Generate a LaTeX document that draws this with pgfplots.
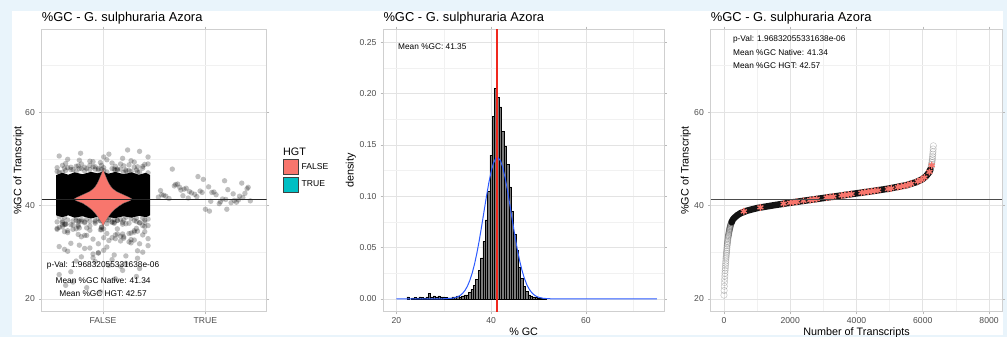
\documentclass[border=0pt]{standalone}
\usepackage{pgfplots}
\pgfplotsset{compat=1.18}
\usepgfplotslibrary{statistics}
\usepackage{fontspec}
\setmainfont{Liberation Sans}
\definecolor{bgblue}{HTML}{E9F4FB}
\definecolor{salmon}{HTML}{F8766D}
\definecolor{teal2}{HTML}{00BFC4}
\definecolor{tickgray}{HTML}{4D4D4D}
\definecolor{gridmaj}{HTML}{E3E3E3}
\definecolor{gridmin}{HTML}{F1F1F1}
\definecolor{borderc}{HTML}{CFCFCF}
\definecolor{histgray}{HTML}{7A7A7A}
\definecolor{curveblue}{HTML}{2D5BFF}
\definecolor{meanred}{HTML}{F0281E}
\newcommand{\fsTitle}{\fontsize{12.9bp}{15bp}\selectfont}
\newcommand{\fsLab}{\fontsize{10.8bp}{13bp}\selectfont}
\newcommand{\fsTick}{\fontsize{8.6bp}{10bp}\selectfont}
\newcommand{\fsNote}{\fontsize{8.3bp}{10bp}\selectfont}
\pgfplotsset{
  ggbase/.style={
    scale only axis,
    clip mode=individual,
    axis background/.style={fill=white},
    axis line style={borderc, line width=0.8bp},
    grid=both,
    major grid style={gridmaj, line width=0.6bp},
    minor grid style={gridmin, line width=0.4bp},
    tick align=outside,
    major tick length=2.7bp,
    minor tick length=0pt,
    tick style={gray!55, line width=0.5bp},
    /pgf/number format/assume math mode=true,
    ticklabel style={font=\fsTick, text=tickgray},
    yticklabel style={anchor=east, inner sep=0pt, xshift=-4bp},
    xticklabel style={anchor=base, inner sep=0pt, yshift=-8.7bp},
    title style={font=\fsTitle, at={(axis description cs:0,1)}, anchor=base west, yshift=1.6bp, inner sep=0pt},
    label style={font=\fsLab},
    xlabel style={at={(axis description cs:0.5,0)}, anchor=base, yshift=-23.8bp, inner sep=0pt},
  },
  sqlegend/.style={legend image code/.code={\draw[##1,line width=0.6bp] (0bp,-7.5bp) rectangle (15bp,7.5bp);}},
}
\begin{document}
\begin{tikzpicture}
\fill[bgblue] (0,0) rectangle (1007bp,337bp);
\fill[white] (12bp,2bp) rectangle (1003bp,326bp);

% ---------------- Panel 1 ----------------
\begin{axis}[ggbase,
  at={(41.7bp,25.3bp)}, anchor=south west,
  width=225bp, height=282.4bp,
  xmin=0.4, xmax=2.6, ymin=17.25, ymax=77.75,
  xtick={1,2}, xticklabels={FALSE,TRUE}, minor xtick={},
  ytick={20,40,60}, minor ytick={30,50,70},
  title={\%GC - G. sulphuraria Azora},
  ylabel={\%GC of Transcript},
  ylabel style={at={(axis description cs:-0.103,0.5)}, anchor=center},
  legend style={at={(axis description cs:1.0724,0.539)}, anchor=north west, draw=none, fill=none,
    inner sep=0pt, outer sep=0pt, row sep=1.5bp, font=\fsTick, nodes={inner sep=0.6bp},
    /tikz/every odd column/.append style={column sep=2.5bp}},
  legend cell align=left,
]
\addlegendimage{sqlegend, fill=salmon, draw=black!75}
\addlegendentry{FALSE}
\addlegendimage{sqlegend, fill=teal2, draw=black!75}
\addlegendentry{TRUE}
% dense jitter band of FALSE points
\addplot[forget plot, fill=black, draw=none] coordinates {
(0.54,37.9) (0.6,37.5) (0.66,37.9) (0.72,37.4) (0.8,37.7) (0.88,37.2) (0.95,37.6) (1.0,37.0) (1.05,37.5) (1.12,37.3) (1.2,37.7) (1.28,37.4) (1.35,37.8) (1.42,37.5) (1.46,37.9)
(1.46,46.5) (1.42,47.0) (1.35,46.6) (1.28,47.1) (1.2,46.7) (1.12,47.2) (1.05,46.8) (1.0,47.3) (0.95,46.9) (0.88,47.2) (0.8,46.7) (0.72,47.1) (0.66,46.6) (0.6,47.0) (0.54,46.5) (0.54,37.9)};
% scattered FALSE points
\addplot[forget plot, only marks, mark=*, mark size=2.7bp, mark options={fill=black, fill opacity=0.25, draw opacity=0}] coordinates {
(1.109,36.2) (0.757,35.5) (1.326,36.6) (0.974,34.8) (0.623,36.0) (1.191,33.9) (0.840,35.2) (1.408,36.4) (1.057,32.5) (0.706,35.8)
(1.274,34.1) (0.923,36.8) (0.571,31.2) (1.140,35.0) (0.788,33.3) (1.357,36.3) (1.006,30.4) (0.654,34.6) (1.223,29.2) (0.871,35.6)
(1.440,32.9) (1.088,36.5) (0.737,28.1) (1.305,34.3) (0.954,31.8) (0.603,35.9) (1.171,27.0) (0.820,33.6) (1.388,30.0) (1.037,36.1)
(0.685,25.8) (1.254,32.2) (0.902,29.6) (0.551,34.9) (1.120,24.3) (0.768,31.5) (1.337,28.7) (0.985,35.3) (0.634,22.9) (1.202,33.0)
(1.202,36.9) (0.634,36.0) (0.985,35.4) (1.337,34.5) (0.768,36.7) (1.120,33.7) (0.551,35.1) (0.902,32.8) (1.254,36.2) (0.685,31.9)
(1.037,34.0) (1.388,35.7) (0.820,30.8) (1.171,33.4) (0.603,36.4) (0.954,29.8) (1.305,32.6) (0.737,35.0) (1.088,28.4) (1.440,31.4)
(0.871,34.7) (1.223,27.6) (0.654,30.2) (1.006,33.1) (1.357,26.5) (0.788,29.0) (1.140,36.8) (0.571,25.2) (0.923,28.0) (1.274,32.0)
(0.706,23.6) (1.057,27.2) (1.408,34.4) (0.840,22.4) (1.191,26.1) (0.623,30.6) (0.974,21.5) (1.326,24.8) (0.757,33.8) (1.109,29.4)
(1.109,36.4) (0.757,35.8) (1.326,35.1) (0.974,36.7) (0.623,34.4) (1.191,36.0) (0.840,33.6) (1.408,35.5) (1.057,36.9) (0.706,34.9)
(1.274,32.7) (0.923,36.2) (0.571,35.3) (1.140,33.9) (0.788,36.6) (1.357,31.8) (1.006,35.0) (0.654,34.2) (1.223,36.1) (0.871,30.9)
(1.440,35.7) (1.088,33.1) (0.737,36.8) (1.305,34.6) (0.954,29.9) (0.603,35.4) (1.171,32.4) (0.820,36.3) (1.388,33.7) (1.037,31.1)
(0.685,35.9) (1.254,34.0) (0.902,28.8) (0.551,36.5) (1.120,32.9) (0.768,35.2) (1.337,30.3) (0.985,34.8) (0.634,36.0) (1.202,33.3)
(1.109,47.8) (0.757,48.5) (1.326,47.6) (0.974,49.2) (0.623,48.0) (1.191,50.1) (0.840,47.9) (1.408,48.8) (1.057,51.0) (0.706,47.7)
(1.274,49.6) (0.923,48.3) (0.571,50.6) (1.140,47.8) (0.788,48.9) (1.357,51.6) (1.006,48.1) (0.654,49.9) (1.223,47.6) (0.871,48.6)
(1.440,50.4) (1.088,49.1) (1.240,51.9) (0.780,51.2) (0.954,47.9)
(0.685,48.2) (1.254,48.7) (0.902,49.4) (0.551,48.1) (1.120,48.4) (0.768,49.7) (1.337,48.3) (0.985,48.6) (0.634,49.0) (1.202,48.5)
(1.037,49.8) (1.388,48.4) (0.820,48.2) (1.171,48.9) (0.603,48.6) (1.305,49.3) (0.737,48.4) (1.440,48.9) (0.871,49.5) (1.006,50.4)
(1.109,37.0) (0.757,36.6) (1.326,37.3) (0.974,36.8) (0.623,37.5) (1.191,36.4) (0.840,37.1) (1.408,36.9) (1.057,37.4) (0.706,36.7)
(1.274,37.2) (0.923,36.5) (0.571,37.6) (1.140,36.8) (0.788,37.0) (1.357,36.3) (1.006,37.3) (0.654,36.9) (1.223,37.5) (0.871,36.6)
(1.440,37.1) (1.088,36.4) (0.737,37.4) (1.305,36.8) (0.954,37.2) (0.603,36.7) (1.171,37.0) (0.820,36.5) (1.388,37.3) (1.037,36.9)
(1.274,47.3) (0.923,47.8) (0.571,47.1) (1.140,47.6) (0.788,47.9) (1.357,47.2) (1.006,47.5) (0.654,48.1) (1.223,47.4) (0.871,47.7)
(1.440,47.0) (1.088,47.9) (0.737,47.3) (1.305,48.2) (0.954,47.6) (0.603,47.1) (1.171,47.8) (0.820,47.4) (1.388,48.0) (1.037,47.2)
(0.685,47.7) (1.254,47.5) (0.902,48.3) (0.551,47.3) (1.120,47.6) (0.768,47.9) (1.337,47.2) (0.985,47.8) (0.634,47.5) (1.202,47.1)};
% TRUE points
\addplot[forget plot, only marks, mark=*, mark size=2.7bp, mark options={fill=black, fill opacity=0.25, draw opacity=0}] coordinates {
(2.105,42.3) (1.749,43.9) (2.324,41.2) (1.969,42.8) (1.614,42.0) (2.188,45.3) (1.833,41.6) (2.408,43.6) (2.053,40.9) (1.697,44.2)
(2.272,42.5) (1.917,41.9) (1.562,43.2) (2.136,40.4) (1.781,42.1) (2.356,44.8) (2.001,39.2) (1.645,41.5) (2.220,43.4) (1.865,42.7)
(2.440,41.0) (2.084,42.9) (1.729,44.6) (2.304,40.7) (1.949,43.1) (1.593,42.2) (2.168,41.4) (1.813,43.7) (2.387,42.6) (2.032,44.0)
(1.677,47.8) (2.252,40.6) (1.896,42.4) (1.541,41.8) (2.040,38.8) (1.761,43.3) (2.335,42.0) (1.980,45.6) (2.210,39.2) (2.200,41.3)
(1.844,43.0) (2.419,43.9) (2.064,42.8) (1.709,44.5) (2.283,41.1) (1.928,46.2) (1.573,42.3) (2.148,40.8) (1.792,43.5) (2.367,41.7)};
% violin
\addplot[forget plot, fill=salmon, draw=black!60, line width=0.3bp] coordinates {
(1,35.5) (1.015,36.3) (1.035,37.0) (1.055,37.7) (1.08,38.4) (1.11,39.1) (1.15,39.8) (1.2,40.5) (1.26,41.0) (1.285,41.35)
(1.26,41.7) (1.2,42.3) (1.16,42.7) (1.13,43.0) (1.095,43.6) (1.075,44.1) (1.055,44.8) (1.04,45.5) (1.025,46.3) (1.012,47.0) (1,47.8)
(0.988,47.0) (0.975,46.3) (0.96,45.5) (0.945,44.8) (0.925,44.1) (0.905,43.6) (0.87,43.0) (0.84,42.7) (0.8,42.3) (0.74,41.7)
(0.715,41.35) (0.74,41.0) (0.8,40.5) (0.85,39.8) (0.89,39.1) (0.92,38.4) (0.945,37.7) (0.965,37.0) (0.985,36.3) (1,35.5)};
% boxplots
\addplot[forget plot, black, line width=0.8bp, boxplot prepared={lower whisker=20.3, lower quartile=40.4, median=41.5, upper quartile=42.9, upper whisker=52.9, draw position=1, box extend=0.1, whisker extend=0}] coordinates {};
\addplot[forget plot, black, line width=0.8bp, boxplot prepared={lower whisker=37.1, lower quartile=41.6, median=42.4, upper quartile=43.4, upper whisker=49.6, draw position=2, box extend=0.1, whisker extend=0}] coordinates {};
% mean line
\addplot[forget plot, black!85, line width=0.9bp] coordinates {(0.4,41.34) (2.6,41.34)};
\node[font=\fsNote] at (axis cs:1,27.14) {p-Val: 1.96832055331638e-06};
\node[font=\fsNote] at (axis cs:1,24.0) {Mean \%GC Native: 41.34};
\node[font=\fsNote] at (axis cs:1,21.1) {Mean \%GC HGT: 42.57};
\node[font=\fsLab, anchor=west, inner sep=0pt] at (axis description cs:1.0724,0.567) {HGT};
\end{axis}

% ---------------- Panel 2 ----------------
\begin{axis}[ggbase,
  at={(383.3bp,25.3bp)}, anchor=south west,
  width=280.7bp, height=282.4bp,
  xmin=17.25, xmax=76.5, ymin=-0.0125, ymax=0.2625,
  xtick={20,40,60}, minor xtick={30,50,70},
  ytick={0,0.05,0.1,0.15,0.2,0.25}, minor ytick={0.025,0.075,0.125,0.175,0.225},
  y tick label style={/pgf/number format/fixed, /pgf/number format/fixed zerofill, /pgf/number format/precision=2},
  title={\%GC - G. sulphuraria Azora},
  xlabel={\% GC},
]
\addplot[ybar, bar width=0.5, bar shift=0pt, fill=histgray, draw=black, line width=0.5bp] coordinates {
(22.5,0.002) (23.5,0.001) (24.0,0.0015) (24.5,0.001) (25.0,0.002) (25.5,0.0015) (26.0,0.001) (26.5,0.002) (27.0,0.005) (27.5,0.002)
(28.0,0.003) (28.5,0.002) (29.0,0.003) (29.5,0.002) (30.0,0.002) (30.5,0.0015) (31.0,0.001) (31.5,0.001) (32.0,0.002) (32.5,0.002)
(33.0,0.003) (33.5,0.002) (34.0,0.003) (34.5,0.004) (35.0,0.004) (35.5,0.006) (36.0,0.009) (36.5,0.013) (37.0,0.019) (37.5,0.028)
(38.0,0.040) (38.5,0.056) (39.0,0.077) (39.5,0.105) (40.0,0.140) (40.5,0.178) (41.0,0.205) (41.5,0.196) (42.0,0.187) (42.5,0.163)
(43.0,0.149) (43.5,0.131) (44.0,0.109) (44.5,0.085) (45.0,0.063) (45.5,0.047) (46.0,0.031) (46.5,0.020) (47.0,0.012) (47.5,0.007)
(48.0,0.004) (48.5,0.003) (49.0,0.002) (49.5,0.0015) (50.0,0.001) (50.5,0.001) (51.0,0.0005) (51.5,0.0005)};
\addplot[color=curveblue, line width=1bp] coordinates {
(20,0) (30,0.0001) (32,0.0007) (33,0.0021) (33.5,0.0034) (34,0.0054) (34.5,0.0083) (35,0.0123) (35.5,0.0178) (36,0.0249)
(36.5,0.0337) (37,0.0445) (37.5,0.0568) (38,0.0705) (38.5,0.0849) (39,0.0991) (39.5,0.1124) (40,0.1238) (40.5,0.1322) (41,0.1370)
(41.35,0.138) (42,0.1345) (42.5,0.1275) (43,0.1172) (43.5,0.1046) (44,0.0906) (44.5,0.0762) (45,0.0622) (45.5,0.0492) (46,0.0378)
(46.5,0.0282) (47,0.0204) (47.5,0.0143) (48,0.0098) (48.5,0.0065) (49,0.0042) (49.5,0.0026) (50,0.0016) (51,0.0005) (52,0.0002)
(53,0) (75,0)};
\addplot[solid, mark=none, draw=meanred, line width=2bp] table[row sep=\\] {x y\\ 41.35 -0.0125\\ 41.35 0.2625\\};
\node[font=\fsNote] at (axis cs:27.6,0.2455) {Mean \%GC: 41.35};
\node[font=\fsLab, rotate=90] at (axis description cs:-0.116,0.5) {density};
\end{axis}

% ---------------- Panel 3 ----------------
\begin{axis}[ggbase,
  at={(710.7bp,25.3bp)}, anchor=south west,
  width=291.6bp, height=282.4bp,
  xmin=-400, xmax=8400, ymin=17.25, ymax=77.75,
  xtick={0,2000,4000,6000,8000}, minor xtick={1000,3000,5000,7000},
  ytick={20,40,60}, minor ytick={30,50,70},
  scaled x ticks=false, x tick label style={/pgf/number format/1000 sep={}},
  title={\%GC - G. sulphuraria Azora},
  xlabel={Number of Transcripts}, ylabel={\%GC of Transcript},
  ylabel style={at={(axis description cs:-0.0854,0.5)}, anchor=center},
]
% sparse tails (open circles)
\addplot[only marks, mark=o, mark size=3.2bp, mark options={draw=black, draw opacity=0.22, line width=0.5bp}] coordinates {
(0,20.8) (5,21.8) (10,22.7) (15,23.5) (20,24.2) (25,24.9) (30,25.5) (35,26.1) (40,26.6) (45,27.1) (50,27.6) (55,28.1) (60,28.6)
(65,29.0) (70,29.4) (75,29.8) (80,30.2) (85,30.6) (90,31.0) (95,31.4) (100,31.7) (105,32.0) (110,32.3) (115,32.6) (120,32.9) (125,33.2) (130,33.4) (135,33.6) (140,33.8) (145,34.0) (150,34.2) (155,34.4) (160,34.6) (165,34.8) (170,34.9)
(175,35.1) (180,35.2) (185,35.4) (190,35.5) (195,35.7) (200,35.8) (208,36.0) (215,36.1) (222,36.3) (230,36.4)
(6200,47.3) (6220,47.6) (6240,48.0) (6255,48.4) (6265,48.8) (6275,49.2) (6283,49.6) (6290,50.0) (6296,50.5) (6302,51.0) (6308,51.5) (6314,52.1) (6320,52.8)};
% dense sorted band
\addplot[black, line width=6.5bp, line cap=round, opacity=0.92] coordinates {
(230,36.4) (270,37.0) (320,37.4) (400,37.9) (500,38.35) (700,38.9) (1000,39.45) (1500,40.05) (2000,40.6) (2500,41.1) (3000,41.6)
(3500,42.1) (4000,42.6) (4500,43.1) (5000,43.65) (5500,44.35) (5800,45.0) (6000,45.7) (6100,46.3) (6180,47.0) (6230,47.7)};
% HGT transcripts
\addplot[only marks, mark=asterisk, mark size=3.4bp, mark options={draw=salmon, line width=1.4bp}] coordinates {
(600,38.75) (1100,39.6) (1800,40.4) (2000,40.6) (2100,40.7) (2200,40.8) (2400,41.0) (2600,41.2) (2700,41.3) (2800,41.4)
(3100,41.7) (3200,41.8) (3300,41.9) (3550,42.15) (3650,42.25) (3750,42.35) (3850,42.45) (4150,42.75) (4250,42.85) (4350,42.95)
(4450,43.05) (4550,43.15) (4650,43.25) (4950,43.55) (5050,43.67) (5250,43.95) (5350,44.1) (5450,44.23) (5550,44.42) (5650,44.65)
(5850,45.18) (5950,45.5) (6050,46.0) (6200,47.2) (6270,48.6)};
\addplot[black!70, line width=1.2bp] coordinates {(-400,41.34) (8400,41.34)};
\node[font=\fsNote, anchor=west, inner sep=0pt] at (axis cs:270,75.7) {p-Val: 1.96832055331638e-06};
\node[font=\fsNote, anchor=west, inner sep=0pt] at (axis cs:270,72.8) {Mean \%GC Native: 41.34};
\node[font=\fsNote, anchor=west, inner sep=0pt] at (axis cs:270,69.9) {Mean \%GC HGT: 42.57};
\end{axis}
\pgfresetboundingbox
\useasboundingbox (0,0) rectangle (1007bp,337bp);
\end{tikzpicture}
\end{document}
